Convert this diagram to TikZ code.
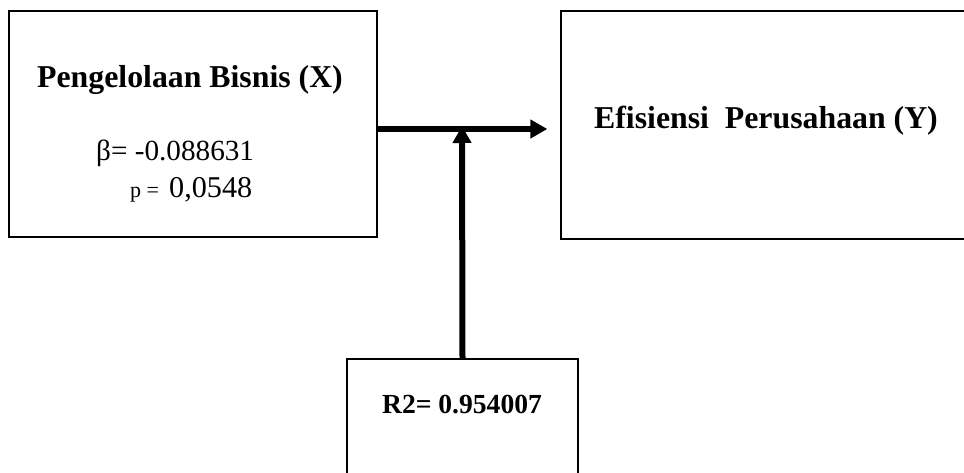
\documentclass[tikz,border=0pt]{standalone}
\usepackage{fontspec}
\setmainfont{Liberation Serif}
\usetikzlibrary{arrows.meta}
\begin{document}
\begin{tikzpicture}[x=1pt,y=-1pt,
  box/.style={draw=black,line width=1.3pt,rectangle,inner sep=0pt,fill=none},
  bigbold/.style={font=\fontsize{31.8}{36}\selectfont\bfseries,anchor=base,inner sep=0pt},
  regtxt/.style={font=\fontsize{29.2}{32}\selectfont,anchor=base west,inner sep=0pt},
  conn/.style={line width=6pt,-{Triangle[length=17pt,width=18pt]}}]
\useasboundingbox (0,0) rectangle (964,472);
\fill[white] (0,0) rectangle (964,472);
% boxes
\node[box,minimum width=368pt,minimum height=226pt] (L) at (193,124) {};
\node[box,minimum width=405pt,minimum height=228pt] (R) at (763.5,125) {};
\node[box,minimum width=231pt,minimum height=130pt] (B) at (462.5,424) {};
% texts
\node[bigbold] (lt) at (190,87) {Pengelolaan Bisnis (X)};
\node[regtxt] (beta) at (96,160) {β= -0.088631};
\node[font=\fontsize{22}{24}\selectfont,anchor=base west,inner sep=0pt] (pl) at (130,197) {p =};
\node[font=\fontsize{30.2}{34}\selectfont,anchor=base west,inner sep=0pt] (pv) at (169,197) {0,0548};
\node[bigbold] (rt) at (766,128) {Efisiensi\ \ Perusahaan (Y)};
\node[font=\fontsize{27.6}{32}\selectfont\bfseries,anchor=base,inner sep=0pt] (r2) at (462,413) {R2= 0.954007};
% connectors
\coordinate (j) at (462,129);
\draw[conn,shorten >=13pt] (L.east |- j) -- (R.west |- j);
\draw[conn] (B.north) -- ([yshift=3pt]j);
\end{tikzpicture}
\end{document}
